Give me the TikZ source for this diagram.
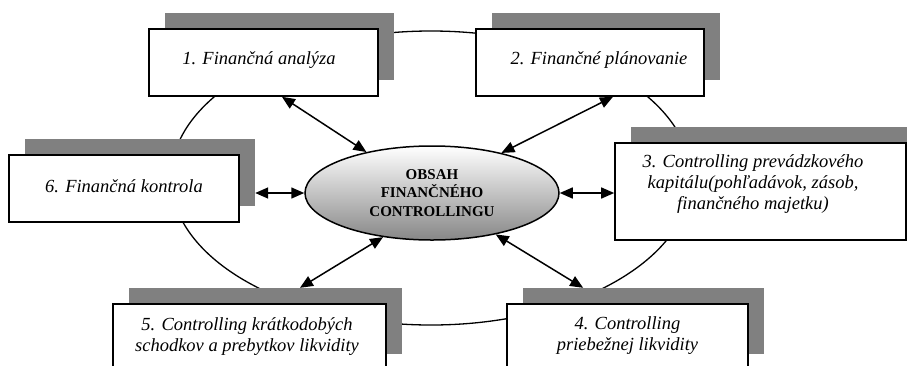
\documentclass[tikz,border=0pt]{standalone}
\usepackage{fontspec}
\setmainfont{Liberation Serif}
\usetikzlibrary{arrows.meta,calc,shapes.geometric}
\definecolor{shadowgray}{RGB}{128,128,128}
\definecolor{ellbottom}{RGB}{135,135,135}
\begin{document}
\begin{tikzpicture}[x=1pt,y=-1pt,
  box/.style={draw=black, line width=1.6pt, fill=white, inner sep=0pt},
  shadowbox/.style={fill=shadowgray, draw=none, inner sep=0pt},
  lbl/.style={font=\fontsize{18.5}{21}\selectfont\itshape, align=center, inner sep=0pt},
  centre/.style={ellipse, draw=black, line width=1.5pt, top color=white, bottom color=ellbottom,
    minimum width=254pt, minimum height=94pt, inner sep=0pt,
    font=\fontsize{15}{18.5}\selectfont\bfseries, align=center},
  ring/.style={draw=black, line width=1.3pt},
  link/.style={line width=1.5pt, {Triangle[length=13pt,width=11pt]}-{Triangle[length=13pt,width=11pt]}}
]
\path[use as bounding box, clip] (0,0) rectangle (907,365);

% background ring
\draw[ring] (431,178) ellipse [x radius=260, y radius=147];

% shadows
\node[shadowbox, minimum width=229pt, minimum height=67pt] (s1) at (279.5,46.5) {};
\node[shadowbox, minimum width=228pt, minimum height=67pt] (s2) at (606,46.5) {};
\node[shadowbox, minimum width=230pt, minimum height=67pt] (s6) at (140,172.5) {};
\node[shadowbox, minimum width=291pt, minimum height=97pt] (s3) at (776.5,175.5) {};
\node[shadowbox, minimum width=273pt, minimum height=66pt] (s5) at (265.5,321) {};
\node[shadowbox, minimum width=241pt, minimum height=66pt] (s4) at (643.5,321) {};

% boxes
\node[box, minimum width=229pt, minimum height=67pt] (b1) at (263.5,62.5) {};
\node[box, minimum width=228pt, minimum height=67pt] (b2) at (590,62.5) {};
\node[box, minimum width=230pt, minimum height=67pt] (b6) at (124,188.5) {};
\node[box, minimum width=291pt, minimum height=97pt] (b3) at (760.5,191.5) {};
\node[box, minimum width=273pt, minimum height=66pt] (b5) at (249.5,337) {};
\node[box, minimum width=241pt, minimum height=66pt] (b4) at (627.5,337) {};

% labels
\node[lbl] (t1) at (259,60) {1. Finančná analýza};
\node[lbl] (t2) at (599,60) {2. Finančné plánovanie};
\node[lbl] (t6) at (124,186) {6. Finančná kontrola};
\node[lbl] (t3) at (753,184) {3. Controlling prevádzkového\\kapitálu(pohľadávok, zásob,\\finančného majetku)};
\node[lbl] (t5) at (247,336.5) {5. Controlling krátkodobých\\schodkov a prebytkov likvidity};
\node[lbl] (t4) at (627.5,336) {4. Controlling\\priebežnej likvidity};

% centre
\node[centre] (c) at (432,193) {OBSAH\\FINANČNÉHO\\CONTROLLINGU};

% connectors
\draw[link] ($(b1.south west)!0.58!(b1.south east)$) -- (c.148);
\draw[link] ($(b2.south west)!0.60!(b2.south east)$) -- (c.30);
\draw[link] (c.west -| s6.east) -- (c.west);
\draw[link] (c.east) -- (c.east -| b3.west);
\draw[link] (c.222) -- ($(s5.north west)!0.626!(s5.north east)$);
\draw[link] (c.327) -- ($(s4.north west)!0.25!(s4.north east)$);
\end{tikzpicture}
\end{document}
